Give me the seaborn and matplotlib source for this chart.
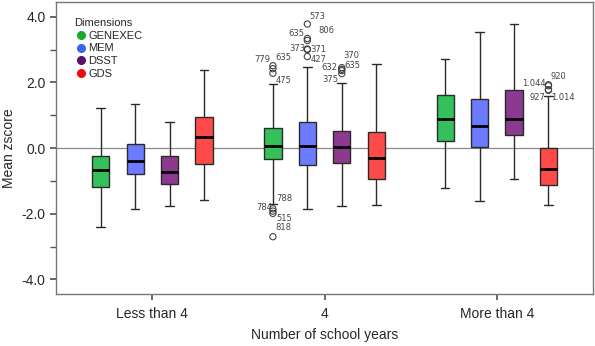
import pandas as pd
import matplotlib
matplotlib.use("Agg")
import matplotlib.pyplot as plt
from matplotlib.lines import Line2D
import seaborn as sns

# Values
groups = ["Less than 4", "4", "More than 4"]
dimensions = ["GENEXEC", "MEM", "DSST", "GDS"]

# one entry per box, group-major, dimension order as above
whisker_low = [-2.42, -1.87, -1.76, -1.59,
               -1.71, -1.87, -1.76, -1.74,
               -1.21, -1.62, -0.94, -1.74]
q1 = [-1.19, -0.80, -1.08, -0.47,
      -0.34, -0.51, -0.45, -0.95,
      0.23, 0.02, 0.39, -1.11]
median = [-0.67, -0.38, -0.73, 0.33,
          0.07, 0.07, 0.04, -0.30,
          0.88, 0.68, 0.88, -0.63]
q3 = [-0.23, 0.11, -0.23, 0.95,
      0.62, 0.80, 0.53, 0.48,
      1.63, 1.49, 1.77, 0.00]
whisker_high = [1.22, 1.34, 0.79, 2.38,
                1.95, 2.47, 1.99, 2.55,
                2.72, 3.55, 3.78, 1.59]

# outliers
out_group = ["4"] * 17 + ["More than 4"] * 4
out_dim = (["GENEXEC"] * 7 + ["MEM"] * 6 + ["DSST"] * 4 + ["GDS"] * 4)
out_value = [2.51, 2.42, 2.28, -1.85, -1.92, -1.99, -2.70,
             3.78, 3.34, 3.28, 3.02, 3.00, 2.79,
             2.45, 2.40, 2.36, 2.27,
             1.93, 1.90, 1.78, 1.76]
out_label = ["779", "635", "475", "788", "784", "515", "818",
             "573", "806", "635", "373", "371", "427",
             "370", "632", "635", "375",
             "920", "1.044", "927", "1.014"]

# label placement (pixels from the point, alignment)
label_offsets = [(-3, 6, "right"), (2, 11, "left"), (3, -7, "left"),
                 (3, 10, "left"), (-1, 4, "right"), (3, -5, "left"), (2, 9, "left"),
                 (2, 8, "left"), (11, 8, "left"), (-3, 7, "right"),
                 (-2, 0, "right"), (3, 0, "left"), (3, -3, "left"),
                 (2, 12, "left"), (-4, 2, "right"), (3, 5, "left"), (-3, -6, "right"),
                 (2, 8, "left"), (-3, 2, "right"), (-3, -8, "right"), (3, -7, "left")]

box_colors = ["#34c05a", "#6c7bff", "#8b3a8f", "#ff4a4a"]
legend_colors = ["#1aaa2a", "#3e63f0", "#5e0e6e", "#f00a0a"]

sns.set_theme(style="white")
plt.rcParams["font.family"] = ["Liberation Sans", "DejaVu Sans"]

# five points per box reproduce the quartiles exactly; whiskers go to min/max
rows = []
for i in range(len(whisker_low)):
    g = groups[i // 4]
    d = dimensions[i % 4]
    for v in [whisker_low[i], q1[i], median[i], q3[i], whisker_high[i]]:
        rows.append({"group": g, "dimension": d, "value": v})
boxes = pd.DataFrame(rows)
outliers = pd.DataFrame({"group": out_group, "dimension": out_dim,
                         "value": out_value, "label": out_label})

fig = plt.figure(figsize=(5.95, 3.46), dpi=100)
ax = fig.add_axes([0.094, 0.150, 0.903, 0.844])

ax.axhline(0, color="#8a8a8a", lw=0.9, zorder=0)

sns.boxplot(data=boxes, x="group", y="value", hue="dimension",
            order=groups, hue_order=dimensions, palette=box_colors,
            saturation=1, width=0.8, gap=0.5, whis=(0, 100),
            linecolor="#2a2a2a", linewidth=1.0,
            medianprops=dict(color="black", linewidth=2),
            legend=False, ax=ax)

n_before = len(ax.collections)
sns.stripplot(data=outliers, x="group", y="value", hue="dimension",
              order=groups, hue_order=dimensions, dodge=True, jitter=False,
              palette=["#444444"] * 4, size=4.5, legend=False, ax=ax)
for coll in ax.collections[n_before:]:
    coll.set_facecolor("none")
    coll.set_edgecolor("#444444")
    coll.set_linewidth(0.8)

for k, row in outliers.iterrows():
    x = groups.index(row["group"]) + (dimensions.index(row["dimension"]) - 1.5) * 0.2
    dx, dy, ha = label_offsets[k]
    ax.annotate(row["label"], (x, row["value"]), xytext=(dx, dy),
                textcoords="offset pixels", ha=ha, va="center",
                fontsize=6, color="#444444", family="DejaVu Sans")

ax.set_ylim(-4.45, 4.45)
ax.set_xlim(-0.56, 2.56)
ax.set_yticks([-4, -2, 0, 2, 4])
ax.set_yticklabels(["-4.0", "-2.0", "0.0", "2.0", "4.0"])
ax.set_yticks([-3, -1, 1, 3], minor=True)
ax.tick_params(axis="y", which="both", direction="out", left=True,
               length=4, color="#555555", labelsize=10)
ax.tick_params(axis="x", direction="out", bottom=True, length=4,
               color="#555555", labelsize=10, pad=5)
ax.set_xlabel("Number of school years", fontsize=10, labelpad=5)
ax.set_ylabel("Mean zscore", fontsize=10)
for s in ax.spines.values():
    s.set_color("#777777")
    s.set_linewidth(1)

handles = [Line2D([], [], marker="o", ls="", color=c, markersize=5.5)
           for c in legend_colors]
ax.legend(handles, dimensions, title="Dimensions", loc="upper left",
          frameon=False, fontsize=8, title_fontsize=8, handletextpad=0.1,
          labelspacing=0.25, borderaxespad=0.5, alignment="left",
          handlelength=1.2, bbox_to_anchor=(0.015, 0.98))

fig.savefig("out.png", dpi=100)
